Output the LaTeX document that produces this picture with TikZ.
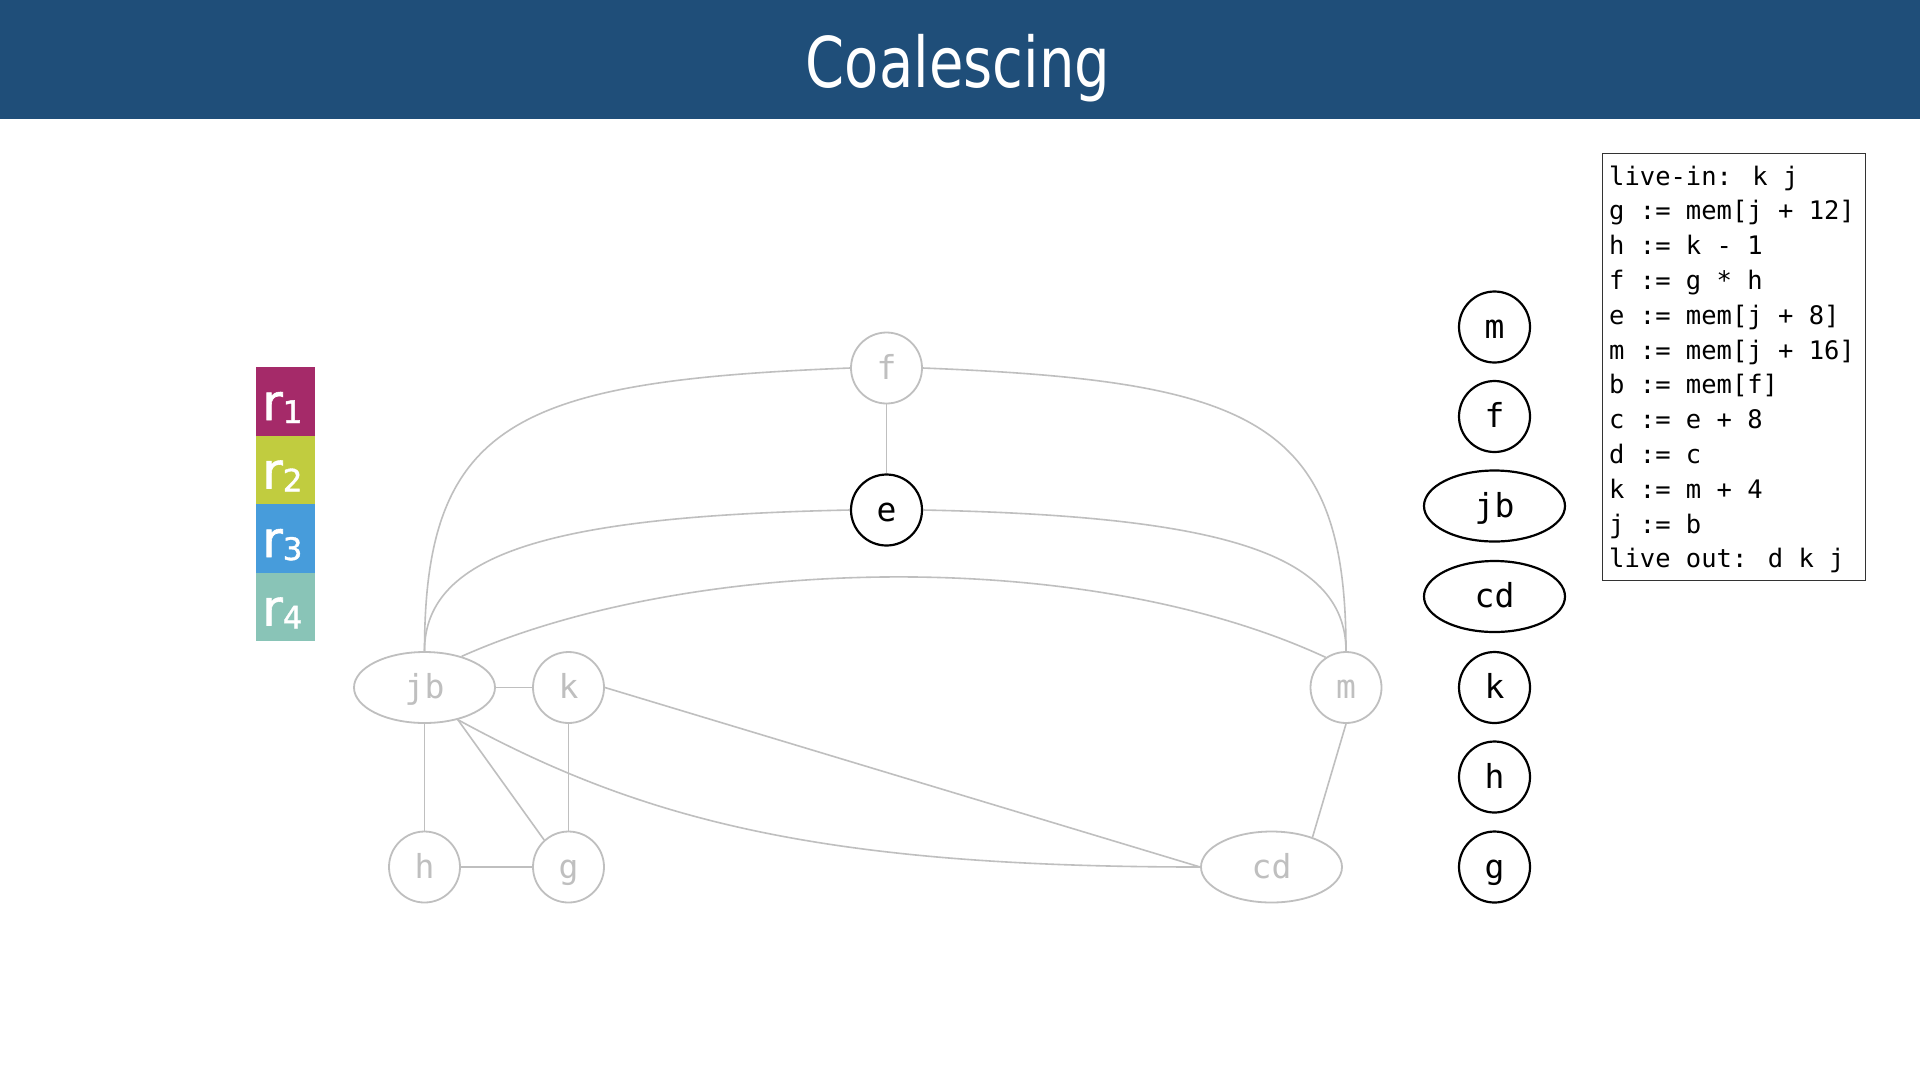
\documentclass[tikz,border=0pt]{standalone}
\usepackage{fontspec}
\usetikzlibrary{shapes.geometric,calc}
\newfontfamily\titlefont[FakeStretch=0.8]{DejaVu Sans}
\newfontfamily\regfont[FakeBold=1.2]{DejaVu Sans}
\newfontfamily\codefont{DejaVu Sans Mono}
\definecolor{barblue}{HTML}{1F4E79}
\definecolor{edgegray}{HTML}{BFBFBF}
\definecolor{rone}{HTML}{A52A69}
\definecolor{rtwo}{HTML}{C1CC3F}
\definecolor{rthree}{HTML}{479CDB}
\definecolor{rfour}{HTML}{89C4B7}
\tikzset{
  gnode/.style={circle, draw=edgegray, line width=1.8pt, minimum size=71pt, inner sep=0pt,
    text=edgegray, font=\codefont\fontsize{33}{33}\selectfont, text height=22pt, text depth=0pt},
  gell/.style={gnode, ellipse, minimum width=141pt, minimum height=71pt},
  bnode/.style={gnode, draw=black, text=black, line width=2.2pt},
  bell/.style={bnode, ellipse, minimum width=141pt, minimum height=71pt},
  gedge/.style={draw=edgegray, line width=1.6pt},
  rbox/.style={rectangle, minimum width=59pt, minimum height=68.5pt, inner sep=0pt, anchor=north west},
  rlabel/.style={anchor=base west, inner sep=0pt, text=white, font=\regfont},
  codeline/.style={anchor=base west, inner sep=0pt, font=\codefont\fontsize{25.5}{25.5}\selectfont}
}
\newcommand{\rlab}[1]{{\fontsize{50}{50}\selectfont r}{\fontsize{31}{31}\selectfont\raisebox{-3pt}{#1}}}
\begin{document}
\begin{tikzpicture}[x=1pt,y=-1pt]
\useasboundingbox (0,0) rectangle (1920,1080);
\fill[white] (0,0) rectangle (1920,1080);
% title bar
\fill[barblue] (0,0) rectangle (1920,119);
\node (title) [anchor=base, inner sep=0pt, text=white, font=\titlefont\fontsize{70}{70}\selectfont] at (958,87) {Coalescing};

% register colour legend
\node (r1box) [rbox, fill=rone] at (255.3,367) {};
\node (r2box) [rbox, fill=rtwo] at (255.3,435.5) {};
\node (r3box) [rbox, fill=rthree] at (255.3,504) {};
\node (r4box) [rbox, fill=rfour] at (255.3,572.5) {};
\node (r1) [rlabel] at (262,420) {\rlab{1}};
\node (r2) [rlabel] at (262,488.5) {\rlab{2}};
\node (r3) [rlabel] at (262,557) {\rlab{3}};
\node (r4) [rlabel] at (262,625.5) {\rlab{4}};

% graph nodes
\node (f)  [gnode] at (886.5,368) {f};
\node (e)  [bnode] at (886.5,510) {e};
\node (jb) [gell]  at (424.5,687.5) {jb};
\node (k)  [gnode] at (568.5,687.5) {k};
\node (m)  [gnode] at (1346,687.5) {m};
\node (h)  [gnode] at (424.5,867) {h};
\node (g)  [gnode] at (568.5,867) {g};
\node (cd) [gell]  at (1271.5,867) {cd};

% edges
\draw[gedge] (f.south) -- (e.north);
\draw[gedge] (f.west) .. controls ($(f.west)+(-331,13)$) and ($(jb.north)+(0,-231)$) .. (jb.north);
\draw[gedge] (f.east) .. controls ($(f.east)+(331,13)$) and ($(m.north)+(0,-231)$) .. (m.north);
\draw[gedge] (e.west) .. controls ($(e.west)+(-291,6)$) and ($(jb.north)+(0,-100)$) .. (jb.north);
\draw[gedge] (e.east) .. controls ($(e.east)+(291,6)$) and ($(m.north)+(0,-100)$) .. (m.north);
\draw[gedge] (jb.40) .. controls ($(jb.40)+(221,-99)$) and ($(m.124)+(-246,-114)$) .. (m.124);
\draw[gedge] (jb.east) -- (k.west);
\draw[gedge] (jb.south) -- (h.north);
\draw[gedge] (jb.-44) -- (g.132);
\draw[gedge] (jb.-44) .. controls ($(jb.-44)+(183,100)$) and ($(cd.west)+(-380,0)$) .. (cd.west);
\draw[gedge] (k.south) -- (g.north);
\draw[gedge] (h.east) -- (g.west);
\draw[gedge] (k.east) -- (cd.west);
\draw[gedge] (m.south) -- (cd.36);

% simplification stack
\node (sm)  [bnode] at (1494.5,327) {m};
\node (sf)  [bnode] at (1494.5,416.5) {f};
\node (sjb) [bell]  at (1494.5,506) {jb};
\node (scd) [bell]  at (1494.5,596.5) {cd};
\node (sk)  [bnode] at (1494.5,687.5) {k};
\node (sh)  [bnode] at (1494.5,777) {h};
\node (sg)  [bnode] at (1494.5,867) {g};

% code box
\node (codebox) [draw=black!80, line width=1.3pt, rectangle, anchor=north west, inner sep=0pt,
  minimum width=263.3pt, minimum height=427.3pt] at (1601.7,152.7) {};
\node (c1)  [codeline] at (1609,185)   {live-in: k j};
\node (c2)  [codeline] at (1609,219.8) {g := mem[j + 12]};
\node (c3)  [codeline] at (1609,254.6) {h := k - 1};
\node (c4)  [codeline] at (1609,289.4) {f := g * h};
\node (c5)  [codeline] at (1609,324.2) {e := mem[j + 8]};
\node (c6)  [codeline] at (1609,359)   {m := mem[j + 16]};
\node (c7)  [codeline] at (1609,393.8) {b := mem[f]};
\node (c8)  [codeline] at (1609,428.6) {c := e + 8};
\node (c9)  [codeline] at (1609,463.4) {d := c};
\node (c10) [codeline] at (1609,498.2) {k := m + 4};
\node (c11) [codeline] at (1609,533)   {j := b};
\node (c12) [codeline] at (1609,567.8) {live out: d k j};
\end{tikzpicture}
\end{document}
